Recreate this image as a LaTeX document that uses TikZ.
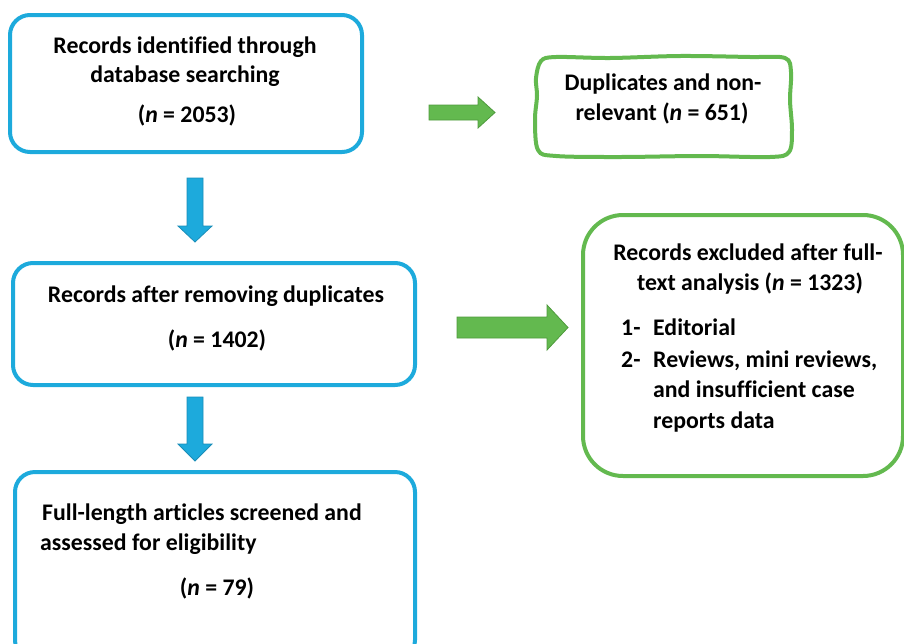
\documentclass[tikz,border=0pt]{standalone}
\usepackage{fontspec}
\setmainfont{Carlito}[Ligatures=NoCommon]
\definecolor{bblue}{HTML}{1DAADC}
\definecolor{bbluedark}{HTML}{1A8DB8}
\definecolor{ggreen}{HTML}{63B94F}
\definecolor{ggreendark}{HTML}{4E9A3C}
\tikzset{
  bbox/.style={draw=bblue, line width=4pt, rounded corners=20pt},
  gbox/.style={draw=ggreen, line width=4pt},
  txt/.style={anchor=base, font=\fontsize{23.8}{28}\selectfont\bfseries, inner sep=0pt},
  txtl/.style={anchor=base west, font=\fontsize{23.8}{28}\selectfont\bfseries, inner sep=0pt},
  barrow/.style={fill=bblue, draw=bbluedark, line width=0.8pt},
  garrow/.style={fill=ggreen, draw=ggreendark, line width=0.8pt},
}
\begin{document}
\begin{tikzpicture}[x=1pt,y=-1pt]
\useasboundingbox (0,0) rectangle (904,643);
% boxes
\draw[bbox] (10,15) rectangle (362,152);
\draw[bbox] (13,263) rectangle (415,385);
\draw[bbox] (15,472) rectangle (415,660);
\draw[gbox, rounded corners=40pt] (583,215) rectangle (903,476);
\draw[gbox] plot[smooth cycle, tension=0.55] coordinates {
  (536,78) (541,61) (556,57) (610,58) (680,56) (750,57) (785,58) (791,72)
  (790,100) (792,130) (789,152) (770,157) (700,156) (620,157) (556,156)
  (538,150) (535,120) (537,96)};
% text box 1
\node[txt] (t1a) at (185,53) {Records identified through};
\node[txt] (t1b) at (185,82) {database searching};
\node[txt] (t1c) at (187,122) {(\textit{n} = 2053)};
% text box 2
\node[txt] (t2a) at (663,90) {Duplicates and non-};
\node[txt] (t2b) at (662,120) {relevant (\textit{n} = 651)};
% text box 3
\node[txt] (t3a) at (216,302) {Records after removing duplicates};
\node[txt] (t3b) at (217,347) {(\textit{n} = 1402)};
% text box 4
\node[txtl] (t4a) at (42,520) {Full-length articles screened and};
\node[txtl] (t4b) at (40,550) {assessed for eligibility};
\node[txt] (t4c) at (217,595) {(\textit{n} = 79)};
% text box 5
\node[txt] (t5a) at (748,260) {Records excluded after full-};
\node[txt] (t5b) at (750,290) {text analysis (\textit{n} = 1323)};
\node[txtl] (n1) at (621,335) {1-};
\node[txtl] (i1) at (653,335) {Editorial};
\node[txtl] (n2) at (621,367) {2-};
\node[txtl] (i2a) at (653,367) {Reviews, mini reviews,};
\node[txtl] (i2b) at (653,397) {and insufficient case};
\node[txtl] (i2c) at (653,428) {reports data};
% block arrows
\draw[barrow] (187,178) -- (203,178) -- (203,226) -- (212,226) -- (195,242) -- (178,226) -- (187,226) -- cycle;
\draw[barrow] (187,397) -- (203,397) -- (203,444) -- (212,444) -- (195,461) -- (178,444) -- (187,444) -- cycle;
\draw[garrow] (429,105) -- (478,105) -- (478,97) -- (495,112.5) -- (478,128) -- (478,120) -- (429,120) -- cycle;
\draw[garrow] (457,317) -- (547,317) -- (547,305) -- (568,327.5) -- (547,350) -- (547,338) -- (457,338) -- cycle;
\end{tikzpicture}
\end{document}
